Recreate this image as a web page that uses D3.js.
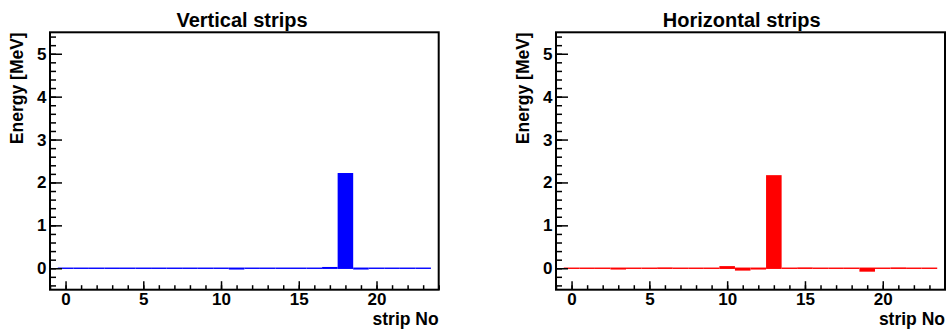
<!DOCTYPE html>
<html>
<head>
<meta charset="utf-8">
<script src="https://cdn.jsdelivr.net/npm/d3@7"></script>
<style>
	body { margin: 0; background: #fff; }
	svg text { font-family: "Liberation Sans", Arial, Helvetica, sans-serif; font-weight: bold; fill: #000; }
</style>
</head>
<body>
<div class="strips"></div>
<script>

// strip numbers (bin centres)
const strips = [0, 1, 2, 3, 4, 5, 6, 7, 8, 9, 10, 11, 12, 13, 14, 15, 16, 17, 18, 19, 20, 21, 22, 23];

// energy deposited per strip [MeV]
const verticalEnergy = [0, 0, 0, 0, 0, 0, 0, 0, 0, 0, 0, -0.03, 0, 0, 0, 0, 0, 0.03, 2.22, -0.03, 0, 0, 0, 0];
const horizontalEnergy = [0, 0, 0, -0.03, 0, 0, 0.02, 0, 0, 0, 0.05, -0.055, -0.03, 2.17, 0, 0.02, -0.01, 0, 0, -0.08, 0, 0.02, 0, 0];

const xTicks = [0, 5, 10, 15, 20];
const yTicks = [0, 1, 2, 3, 4, 5];

const width = 946;
const height = 333;

const svg = d3.select(".strips").append("svg")
		.attr("width", width)
		.attr("height", height);

const panels = [
	{ title: "Vertical strips", values: verticalEnergy, color: "#0000ff", left: 50, right: 438.7, titleX: 242, yTitleX: 22.7 },
	{ title: "Horizontal strips", values: horizontalEnergy, color: "#ff0000", left: 556, right: 945, titleX: 741.7, yTitleX: 528.7 }
];

const frameTop = 32.3;
const frameBottom = 289.7;
const lineHalf = 0.7; // half thickness of the zero line drawn for each bin

panels.forEach((p) => {

	const x = d3.scaleLinear().domain([-1, 24]).range([p.left, p.right]);
	const y = d3.scaleLinear().domain([-0.5, 5.5]).range([frameBottom, frameTop]);

	const g = svg.append("g");

	// bars: filled from zero to the value, plus the thin zero line
	const barTop = (i) => Math.min(y(0) - lineHalf, y(p.values[i]));
	const barBottom = (i) => Math.max(y(0) + lineHalf, y(p.values[i]));

	g.selectAll(".bar")
		.data(strips).enter()
		.append("rect")
			.attr("class", "bar")
			.attr("x", (d) => x(d - 0.5))
			.attr("width", (d) => x(d + 0.5) - x(d - 0.5))
			.attr("y", (d, i) => barTop(i))
			.attr("height", (d, i) => barBottom(i) - barTop(i))
			.attr("fill", p.color);

	// x axis, minor then major
	g.append("g")
		.attr("transform", `translate(0,${frameBottom})`)
		.call(d3.axisBottom(x).tickValues(d3.range(-1, 25)).tickSize(-4.5).tickFormat(""))
		.call((a) => a.select(".domain").remove());

	g.append("g")
		.attr("transform", `translate(0,${frameBottom})`)
		.call(d3.axisBottom(x).tickValues(xTicks).tickSize(-8.5).tickPadding(3.5).tickFormat(d3.format("d")))
		.call((a) => a.select(".domain").remove())
		.call((a) => a.selectAll("text").attr("font-size", 17));

	// y axis, minor then major
	g.append("g")
		.attr("transform", `translate(${p.left},0)`)
		.call(d3.axisLeft(y).tickValues(d3.range(-0.4, 5.5, 0.2)).tickSize(-6).tickFormat(""))
		.call((a) => a.select(".domain").remove());

	g.append("g")
		.attr("transform", `translate(${p.left},0)`)
		.call(d3.axisLeft(y).tickValues(yTicks).tickSize(-12).tickPadding(3.5).tickFormat(d3.format("d")))
		.call((a) => a.select(".domain").remove())
		.call((a) => a.selectAll("text").attr("font-size", 17));

	g.selectAll(".tick line").attr("stroke", "#000").attr("stroke-width", 1.5);

	// frame
	g.append("rect")
		.attr("x", p.left)
		.attr("y", frameTop)
		.attr("width", p.right - p.left)
		.attr("height", frameBottom - frameTop)
		.attr("fill", "none")
		.attr("stroke", "#000")
		.attr("stroke-width", 2);

	// titles
	g.append("text")
		.text(p.title)
		.attr("x", p.titleX)
		.attr("y", 26.5)
		.attr("text-anchor", "middle")
		.attr("font-size", 20);

	g.append("text")
		.text("strip No")
		.attr("x", p.right)
		.attr("y", 325)
		.attr("text-anchor", "end")
		.attr("font-size", 17.5);

	g.append("text")
		.text("Energy [MeV]")
		.attr("transform", `translate(${p.yTitleX},${frameTop}) rotate(-90)`)
		.attr("text-anchor", "end")
		.attr("font-size", 17.5);
});

</script>
</body>
</html>
